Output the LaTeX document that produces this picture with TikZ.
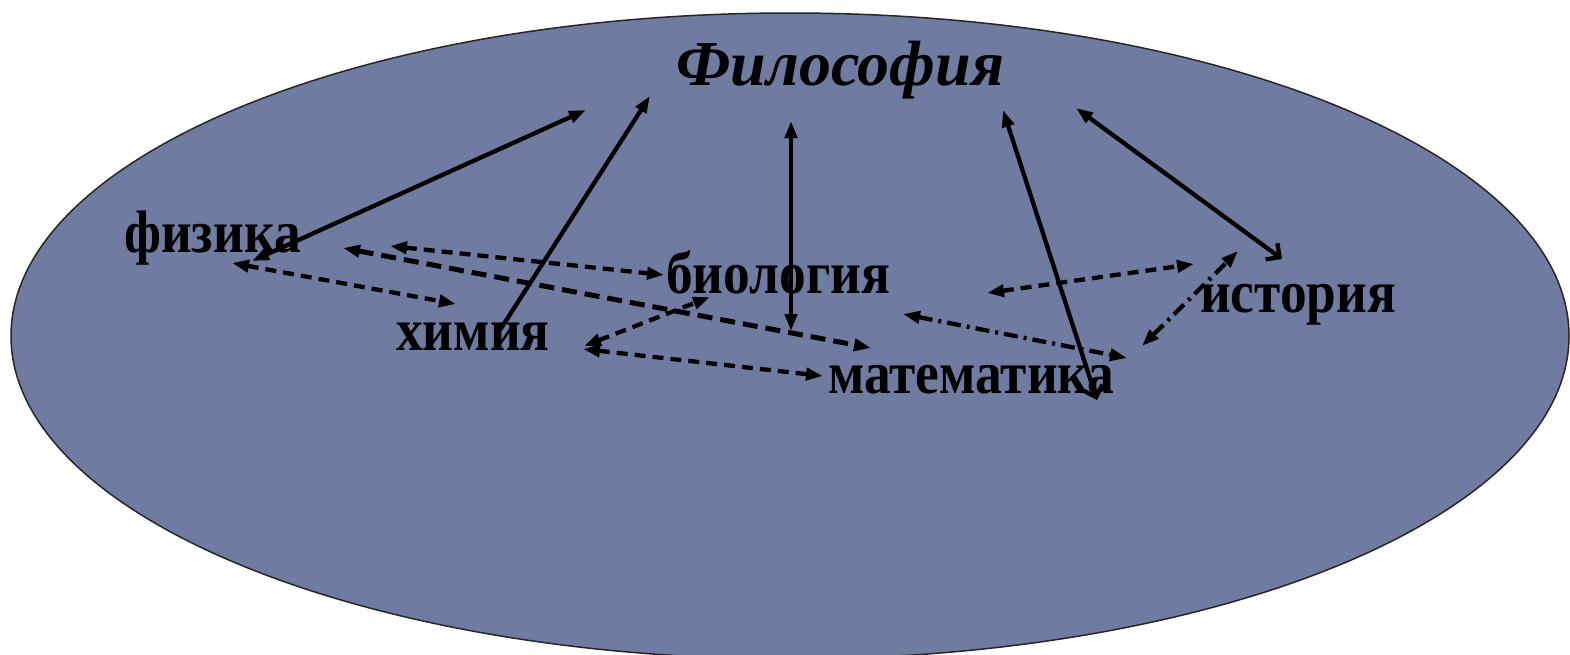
\documentclass[tikz,border=0pt]{standalone}
\usepackage{fontspec}
\setmainfont{Liberation Serif}
\newfontfamily\condserif[FakeStretch=0.89]{Liberation Serif}
\usetikzlibrary{arrows.meta,shapes.geometric}
\definecolor{bg}{RGB}{112,123,161}
\tikzset{
  lbl/.style={anchor=base west,inner sep=0pt,font=\condserif\fontsize{60}{60}\selectfont\bfseries},
  title/.style={anchor=base west,inner sep=0pt,font=\fontsize{64}{64}\selectfont\bfseries\itshape},
  tip/.style={-{Triangle[length=17pt,width=12pt]}},
  both/.style={{Triangle[length=17pt,width=12pt]}-{Triangle[length=17pt,width=12pt]}},
  solidln/.style={line width=4.3pt},
  dashln/.style={line width=4.3pt,dash pattern=on 11pt off 7pt},
  thickdash/.style={line width=5pt,dash pattern=on 15pt off 8pt},
  dashdot/.style={line width=4.3pt,dash pattern=on 14pt off 6pt on 3pt off 6pt},
}
\begin{document}
\begin{tikzpicture}[x=1pt,y=-1pt]
\useasboundingbox (0,0) rectangle (1570,654);
\fill[white] (0,0) rectangle (1570,654);
\node[draw=black!85,line width=1.5pt,fill=bg,ellipse,minimum width=1558pt,minimum height=646pt,inner sep=0pt] (ell) at (790,336) {};
% texts
\node[title] (phil) at (676,85) {Философия};
\node[lbl] (fiz) at (124,252) {физика};
\node[lbl] (him) at (396,350) {химия};
\node[lbl] (bio) at (666,293) {биология};
\node[lbl] (mat) at (828,393) {математика};
\node[lbl] (ist) at (1200,312) {история};
% endpoints
\coordinate (fizA) at (252,261);
\coordinate (philA) at (586,110);
\coordinate (himA) at (500,330);
\coordinate (philB) at (650,96);
\coordinate (bioA) at (791,331);
\coordinate (philC) at (791,121);
\coordinate (matA) at (1097,400);
\coordinate (philD) at (1003,110);
\coordinate (istA) at (1282,259);
\coordinate (philE) at (1076,108);
\coordinate (fizB) at (232,263);
\coordinate (himB) at (456,304);
\coordinate (fizC) at (390,246);
\coordinate (bioB) at (664,275);
\coordinate (fizD) at (343,248);
\coordinate (matB) at (871,348);
\coordinate (himC) at (584,346);
\coordinate (bioC) at (710,297);
\coordinate (himD) at (583,349);
\coordinate (matC) at (823,376);
\coordinate (bioD) at (987,293);
\coordinate (istB) at (1194,264);
\coordinate (bioE) at (903,314);
\coordinate (matD) at (1127,358);
\coordinate (matE) at (1142,346);
\coordinate (istC) at (1238,251);
% solid connectors
\draw[solidln,both] (fizA) -- (philA);
\draw[solidln,tip] (himA) -- (philB);
\draw[solidln,both] (bioA) -- (philC);
\draw[solidln,{Straight Barb[length=10pt,width=20pt]}-{Triangle[length=17pt,width=12pt]}] (matA) -- (philD);
\draw[solidln,{Straight Barb[length=10pt,width=20pt]}-{Triangle[length=17pt,width=12pt]}] (istA) -- (philE);
% dashed connectors
\draw[dashln,both] (fizB) -- (himB);
\draw[dashln,both] (fizC) -- (bioB);
\draw[thickdash,both] (fizD) -- (matB);
\draw[dashln,both] (himC) -- (bioC);
\draw[dashln,both] (himD) -- (matC);
\draw[dashln,both] (bioD) -- (istB);
\draw[dashdot,both] (bioE) -- (matD);
\draw[dashdot,both] (matE) -- (istC);
\end{tikzpicture}
\end{document}
